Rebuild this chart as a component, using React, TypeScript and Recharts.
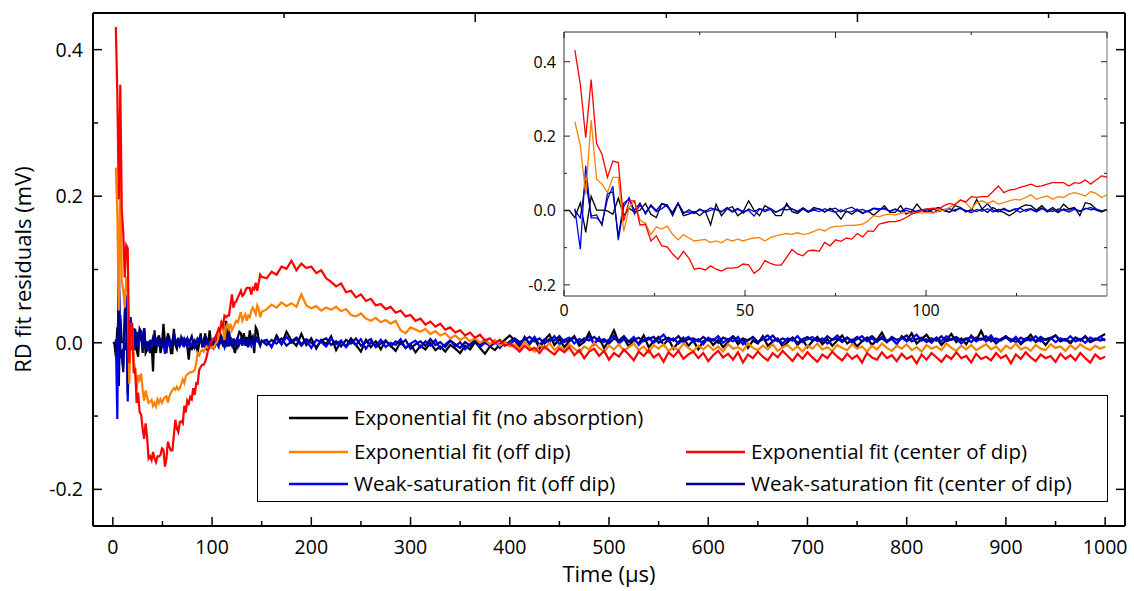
import React from 'react';
import { LineChart, Line, XAxis, YAxis, Legend } from 'recharts';

const FONT = '"Open Sans", "DejaVu Sans", sans-serif';

// ---------- sampling grid (time in µs) ----------
const FINE_START = 0;
const FINE_STEP = 1.5;
const COARSE_START = 155;
const COARSE_STEP = 5;

// ---------- series values, fine part 0..150 µs ----------
const BLACK_FINE = [
  0, 0, -0.019, 0.021, -0.059, 0.038, 0.001, 0.001, -0.001, -0.01,
  0.033, -0.014, 0.006, -0.005, 0.001, 0.019, -0.01, -0.019, 0.019, 0.015,
  -0.014, 0.019, -0.014, -0.01, -0.003, -0.014, -0.001, -0.039, 0.017, -0.014,
  0.004, 0.01, -0.014, -0.003, 0.026, 0.001, -0.014, 0.013, 0.004, -0.014,
  -0.014, 0.019, -0.003, -0.008, 0.004, -0.005, 0.008, 0.004, -0.005, 0.006,
  -0.005, -0.023, -0.001, -0.01, 0.001, -0.008, -0.001, -0.013, -0.001, 0.013,
  -0.005, -0.005, 0.013, -0.01, -0.003, 0.017, -0.001, -0.005, 0.004, 0.008,
  -0.001, -0.005, 0.013, 0.008, -0.003, -0.001, 0.03, 0.004, -0.005, 0.008,
  -0.001, -0.005, -0.014, -0.005, 0.008, 0.015, 0.013, 0.001, 0.013, -0.001,
  0.008, -0.003, 0.017, 0.004, 0.008, -0.014, 0.021, 0.017, 0.004, -0.001,
  0.002,
];
const ORANGE_FINE = [
  null, null, 0.239, 0.176, 0.044, 0.243, 0.084, 0.071, 0.048, 0.089,
  0.089, -0.056, 0.008, 0.026, -0.026, -0.035, -0.065, -0.044, -0.05, -0.042,
  -0.064, -0.079, -0.065, -0.074, -0.082, -0.08, -0.078, -0.086, -0.082, -0.087,
  -0.077, -0.082, -0.077, -0.082, -0.077, -0.074, -0.073, -0.082, -0.073, -0.068,
  -0.065, -0.062, -0.064, -0.06, -0.064, -0.062, -0.056, -0.05, -0.055, -0.046,
  -0.043, -0.042, -0.04, -0.04, -0.039, -0.037, -0.028, -0.014, -0.017, -0.012,
  -0.01, -0.012, -0.008, -0.005, -0.008, -0.005, -0.007, -0.005, -0.007, -0.001,
  0.001, 0.008, 0.017, 0.029, 0.021, 0.004, 0.021, 0.026, 0.019, 0.026,
  0.017, 0.021, 0.026, 0.03, 0.028, 0.035, 0.042, 0.03, 0.035, 0.039,
  0.03, 0.037, 0.035, 0.044, 0.048, 0.044, 0.039, 0.051, 0.046, 0.035,
  0.042,
];
const RED_FINE = [
  null, null, 0.431, 0.34, 0.196, 0.352, 0.18, 0.151, 0.089, 0.133,
  0.129, -0.028, 0.026, 0.026, -0.039, -0.037, -0.082, -0.068, -0.095, -0.098,
  -0.117, -0.131, -0.11, -0.128, -0.158, -0.155, -0.16, -0.149, -0.158, -0.163,
  -0.155, -0.155, -0.153, -0.144, -0.146, -0.169, -0.158, -0.135, -0.142, -0.147,
  -0.147, -0.126, -0.105, -0.117, -0.122, -0.108, -0.107, -0.11, -0.086, -0.095,
  -0.079, -0.083, -0.074, -0.077, -0.062, -0.071, -0.055, -0.056, -0.037, -0.033,
  -0.03, -0.03, -0.026, -0.019, -0.01, -0.005, 0.001, 0.004, 0.006, 0.004,
  0.013, 0.019, 0.015, 0.028, 0.023, 0.037, 0.035, 0.037, 0.037, 0.051,
  0.066, 0.048, 0.055, 0.057, 0.062, 0.066, 0.071, 0.064, 0.066, 0.071,
  0.075, 0.075, 0.075, 0.066, 0.075, 0.073, 0.082, 0.071, 0.082, 0.093,
  0.09,
];
const BLUE_FINE = [
  null, null, 0.005, -0.104, 0.12, -0.02, -0.02, -0.035, 0.03, 0.065,
  -0.08, 0.01, 0.035, -0.01, 0.015, -0.005, 0.012, -0.003, 0.005, 0.015,
  -0.008, 0.02, -0.005, -0.004, -0.008, 0.002, -0.005, 0.0, 0.004, -0.003,
  0.006, -0.005, 0.003, -0.002, 0.0, -0.015, 0.004, -0.003, 0.003, -0.004,
  0.003, 0.002, 0.004, -0.002, 0.006, -0.004, 0.001, -0.003, 0.005, -0.001,
  -0.005, 0.002, -0.004, -0.003, 0.004, -0.006, -0.001, 0.006, 0.005, 0.004,
  -0.002, 0.003, -0.004, 0.001, -0.005, -0.001, 0.002, 0.004, -0.006, -0.001,
  0.003, -0.004, 0.002, 0.005, 0.0, -0.006, 0.003, -0.002, 0.005, -0.004,
  0.003, 0.002, -0.003, 0.004, 0.006, -0.002, 0.003, -0.004, 0.005, 0.0,
  -0.003, 0.004, 0.001, -0.004, 0.003, -0.002, 0.006, 0.002, 0.004, -0.003,
  0.002,
];
const NAVY_FINE = [
  null, null, 0.0, -0.02, 0.08, -0.015, -0.012, -0.04, 0.045, 0.05,
  -0.07, 0.02, 0.03, 0.0, 0.02, -0.01, 0.015, 0.0, 0.018, 0.01,
  -0.005, 0.02, -0.008, 0.002, -0.006, 0.004, -0.003, 0.007, 0.002, -0.004,
  0.008, -0.002, 0.006, -0.007, 0.004, -0.003, 0.005, 0.001, 0.006, -0.005,
  0.002, 0.014, 0.004, -0.004, 0.007, -0.002, 0.003, 0.005, -0.003, 0.002,
  0.006, -0.004, 0.004, 0.009, -0.001, 0.003, -0.004, 0.005, 0.001, 0.007,
  -0.002, 0.004, -0.003, 0.006, 0.002, -0.005, 0.001, -0.002, 0.004, -0.003,
  0.002, 0.005, -0.002, 0.008, -0.004, 0.003, -0.003, 0.004, 0.018, 0.001,
  -0.004, 0.006, -0.002, 0.003, -0.005, 0.002, 0.005, -0.002, 0.007, -0.004,
  0.003, -0.006, 0.004, 0.001, 0.006, -0.003, 0.004, 0.008, 0.001, -0.004,
  0.003,
];

// ---------- series values, coarse part 155..1000 µs ----------
const BLACK_COARSE = [
  0.004, -0.006, 0.010, -0.002, 0.015, 0.003, -0.004, 0.012, -0.003, 0.006,
  -0.008, 0.004, -0.002, 0.009, -0.010, 0.002, -0.005, 0.006, -0.003, -0.012,
  0.004, -0.006, 0.002, -0.009, 0.003, -0.004, -0.011, 0.001, -0.007, -0.002,
  -0.013, -0.004, -0.009, 0.000, -0.010, -0.005, -0.012, -0.003, -0.008, -0.014,
  -0.004, -0.009, 0.001, -0.007, -0.015, -0.005, -0.010, -0.002, 0.004, 0.010,
  0.003, -0.005, 0.008, -0.002, 0.006, -0.008, 0.004, 0.011, -0.003, 0.005,
  -0.006, 0.002, 0.009, -0.004, 0.001, 0.014, -0.002, 0.007, -0.007, 0.003,
  0.017, 0.000, 0.006, -0.005, 0.004, -0.001, 0.010, -0.006, 0.002, 0.008,
  -0.003, 0.005, -0.008, 0.001, 0.007, -0.004, 0.003, -0.009, 0.002, 0.006,
  -0.003, 0.004, -0.006, 0.001, 0.008, -0.002, 0.005, -0.007, 0.003, -0.001,
  0.009, -0.004, 0.002, 0.006, -0.005, 0.001, 0.007, -0.003, 0.004, -0.006,
  0.002, 0.008, -0.002, 0.005, -0.004, 0.003, 0.010, -0.001, 0.004, -0.005,
  0.002, 0.007, -0.003, 0.004, 0.014, 0.001, 0.006, -0.002, 0.009, 0.003,
  0.013, -0.001, 0.005, 0.011, 0.002, 0.007, -0.003, 0.004, 0.012, 0.001,
  0.006, -0.002, 0.010, 0.003, 0.016, 0.002, 0.007, -0.001, 0.005, 0.009,
  0.002, 0.006, -0.002, 0.004, 0.011, 0.001, 0.005, -0.003, 0.006, 0.010,
  0.002, 0.005, -0.001, 0.007, 0.003, 0.009, 0.001, 0.004, 0.008, 0.012,
];
const ORANGE_COARSE = [
  0.046, 0.052, 0.048, 0.055, 0.050, 0.054, 0.049, 0.066, 0.051, 0.047,
  0.050, 0.044, 0.048, 0.045, 0.049, 0.043, 0.046, 0.038, 0.036, 0.040,
  0.033, 0.030, 0.034, 0.028, 0.031, 0.026, 0.030, 0.017, 0.013, 0.021,
  0.018, 0.015, 0.019, 0.012, 0.016, 0.010, 0.013, 0.006, 0.010, 0.004,
  0.008, 0.002, 0.006, 0.000, 0.004, -0.002, 0.003, -0.004, 0.001, -0.005,
  -0.002, -0.009, 0.001, -0.006, -0.012, -0.003, -0.008, 0.000, -0.010, -0.004,
  -0.011, -0.002, -0.008, -0.013, -0.005, -0.009, 0.000, -0.007, -0.012, -0.004,
  -0.009, -0.002, -0.011, -0.006, -0.001, -0.010, -0.005, -0.013, -0.003, -0.008,
  -0.002, -0.011, -0.006, -0.010, -0.001, -0.007, -0.012, -0.004, -0.009, -0.003,
  -0.010, -0.005, -0.012, -0.002, -0.008, -0.006, -0.011, -0.001, -0.007, -0.010,
  -0.004, -0.009, -0.002, -0.011, -0.006, -0.003, -0.010, -0.005, -0.012, -0.004,
  -0.008, -0.001, -0.009, -0.006, -0.011, -0.003, -0.007, -0.010, -0.002, -0.008,
  -0.005, -0.012, -0.004, -0.009, -0.001, -0.007, -0.011, -0.004, -0.008, -0.002,
  -0.010, -0.006, -0.012, -0.003, -0.008, -0.005, -0.010, -0.001, -0.007, -0.011,
  -0.004, -0.009, -0.003, -0.010, -0.006, -0.002, -0.009, -0.005, -0.012, -0.004,
  -0.008, -0.001, -0.009, -0.006, -0.011, -0.003, -0.008, -0.010, -0.002, -0.007,
  -0.005, -0.011, -0.003, -0.009, -0.002, -0.007, -0.010, -0.004, -0.008, -0.005,
];
const RED_COARSE = [
  0.088, 0.097, 0.093, 0.104, 0.101, 0.112, 0.099, 0.108, 0.102, 0.104,
  0.095, 0.099, 0.088, 0.083, 0.077, 0.081, 0.069, 0.071, 0.062, 0.066,
  0.057, 0.060, 0.051, 0.053, 0.046, 0.049, 0.041, 0.044, 0.036, 0.038,
  0.030, 0.033, 0.025, 0.029, 0.022, 0.026, 0.018, 0.021, 0.014, 0.017,
  0.010, 0.014, 0.007, 0.011, 0.003, 0.006, -0.001, 0.004, -0.004, -0.001,
  -0.006, -0.012, -0.004, -0.010, -0.007, -0.014, -0.005, -0.011, -0.016, -0.008,
  -0.013, -0.006, -0.017, -0.010, -0.021, -0.012, -0.008, -0.018, -0.011, -0.023,
  -0.014, -0.019, -0.009, -0.016, -0.024, -0.012, -0.018, -0.010, -0.020, -0.015,
  -0.026, -0.013, -0.019, -0.011, -0.022, -0.016, -0.012, -0.021, -0.014, -0.025,
  -0.017, -0.011, -0.020, -0.015, -0.023, -0.013, -0.027, -0.016, -0.021, -0.012,
  -0.019, -0.024, -0.014, -0.020, -0.011, -0.018, -0.025, -0.015, -0.022, -0.013,
  -0.020, -0.026, -0.016, -0.021, -0.012, -0.019, -0.024, -0.015, -0.022, -0.017,
  -0.027, -0.014, -0.020, -0.023, -0.013, -0.021, -0.017, -0.025, -0.015, -0.022,
  -0.018, -0.028, -0.016, -0.023, -0.014, -0.020, -0.026, -0.017, -0.022, -0.013,
  -0.021, -0.018, -0.027, -0.015, -0.022, -0.019, -0.024, -0.014, -0.021, -0.017,
  -0.028, -0.016, -0.022, -0.013, -0.020, -0.025, -0.016, -0.021, -0.018, -0.026,
  -0.015, -0.022, -0.017, -0.024, -0.014, -0.021, -0.027, -0.016, -0.022, -0.019,
];
const BLUE_COARSE = [
  0.002, -0.005, 0.006, -0.002, 0.008, 0.000, 0.005, -0.004, 0.003, -0.007,
  0.004, 0.001, -0.005, 0.006, -0.002, 0.003, -0.006, 0.002, -0.003, 0.005,
  -0.008, 0.001, -0.004, 0.004, -0.006, 0.000, -0.003, 0.005, -0.007, -0.001,
  0.003, -0.006, 0.002, -0.004, 0.004, -0.008, -0.002, 0.003, -0.005, 0.001,
  -0.009, -0.002, 0.004, -0.006, 0.000, -0.004, 0.003, -0.007, 0.001, -0.003,
  0.004, -0.002, 0.006, 0.000, 0.008, -0.003, 0.005, 0.001, 0.009, -0.002,
  0.004, 0.007, -0.001, 0.005, 0.002, 0.009, -0.002, 0.006, 0.001, 0.004,
  0.010, -0.001, 0.005, 0.002, 0.008, -0.003, 0.004, 0.007, 0.000, 0.005,
  0.011, 0.002, 0.006, -0.001, 0.004, 0.008, 0.001, 0.005, -0.002, 0.007,
  0.003, 0.009, 0.000, 0.005, 0.002, 0.008, -0.002, 0.004, 0.007, 0.001,
  0.006, 0.010, 0.002, 0.005, -0.001, 0.006, 0.003, 0.009, 0.001, 0.005,
  0.008, 0.002, 0.006, -0.001, 0.004, 0.010, 0.003, 0.007, 0.000, 0.005,
  0.009, 0.002, 0.006, 0.001, 0.008, 0.003, 0.005, -0.001, 0.007, 0.002,
  0.006, 0.011, 0.003, 0.005, 0.000, 0.007, 0.002, 0.009, 0.004, 0.006,
  -0.001, 0.005, 0.008, 0.002, 0.006, 0.003, 0.010, 0.001, 0.005, 0.007,
  0.002, 0.008, 0.000, 0.006, 0.003, 0.009, 0.002, 0.005, 0.007, 0.001,
  0.006, 0.003, 0.009, 0.002, 0.005, 0.000, 0.007, 0.004, 0.008, 0.003,
];
const NAVY_COARSE = [
  -0.003, 0.004, -0.001, 0.006, -0.004, 0.002, 0.007, -0.002, 0.005, 0.000,
  -0.006, 0.003, 0.006, -0.003, 0.002, -0.005, 0.004, -0.001, 0.006, -0.004,
  0.001, 0.005, -0.006, -0.001, 0.003, -0.005, 0.002, -0.002, 0.004, -0.008,
  -0.002, 0.002, -0.004, 0.005, -0.003, 0.001, -0.006, 0.003, -0.002, -0.007,
  0.001, -0.004, 0.002, -0.003, 0.004, -0.005, 0.000, 0.003, -0.004, 0.002,
  0.006, 0.001, 0.004, 0.008, 0.002, 0.006, -0.001, 0.005, 0.003, 0.009,
  0.001, 0.004, 0.007, 0.000, 0.006, 0.003, 0.008, 0.002, 0.005, -0.001,
  0.006, 0.003, 0.009, 0.001, 0.004, 0.007, 0.002, 0.005, 0.008, 0.000,
  0.004, 0.007, 0.003, 0.009, 0.001, 0.005, 0.006, 0.002, 0.008, 0.003,
  0.005, 0.000, 0.007, 0.004, 0.009, 0.002, 0.006, 0.003, 0.008, 0.001,
  0.005, 0.004, 0.010, 0.002, 0.006, 0.003, 0.007, 0.000, 0.005, 0.008,
  0.003, 0.006, 0.002, 0.009, 0.004, 0.006, 0.001, 0.007, 0.003, 0.008,
  0.002, 0.005, 0.009, 0.003, 0.006, 0.001, 0.008, 0.004, 0.006, 0.010,
  0.002, 0.005, 0.007, 0.001, 0.006, 0.003, 0.009, 0.002, 0.005, 0.008,
  0.003, 0.006, 0.001, 0.007, 0.004, 0.009, 0.002, 0.006, 0.003, 0.008,
  0.005, 0.001, 0.007, 0.003, 0.006, 0.002, 0.008, 0.004, 0.006, 0.010,
  0.003, 0.005, 0.001, 0.007, 0.004, 0.008, 0.002, 0.006, 0.003, 0.005,
];

// ---------- axes ----------
const MAIN_X_MAJOR = [0, 100, 200, 300, 400, 500, 600, 700, 800, 900, 1000];
const MAIN_X_MINOR = [50, 150, 250, 350, 450, 550, 650, 750, 850, 950];
const MAIN_Y_MAJOR = [-0.2, 0, 0.2, 0.4];
const MAIN_Y_MINOR = [-0.1, 0.1, 0.3];
const MAIN_X_DOMAIN = [-20, 1020];
const MAIN_Y_DOMAIN = [-0.25, 0.45];

const INSET_X_MAJOR = [0, 50, 100];
const INSET_X_MINOR = [25, 75, 125];
const INSET_Y_MAJOR = [-0.2, 0, 0.2, 0.4];
const INSET_Y_MINOR = [-0.1, 0.1, 0.3];
const INSET_X_DOMAIN = [0, 150];
const INSET_Y_DOMAIN = [-0.23, 0.48];

// ---------- series meta ----------
const SERIES = [
  { key: 'black', name: 'Exponential fit (no absorption)', color: '#000000', col: 0, row: 0 },
  { key: 'blue', name: 'Weak-saturation fit (off dip)', color: '#0000ff', col: 0, row: 2 },
  { key: 'navy', name: 'Weak-saturation fit (center of dip)', color: '#000090', col: 1, row: 2 },
  { key: 'orange', name: 'Exponential fit (off dip)', color: '#ff8000', col: 0, row: 1 },
  { key: 'red', name: 'Exponential fit (center of dip)', color: '#ff0000', col: 1, row: 1 },
];

type Row = { t: number; [k: string]: number | null };

function buildRows(start: number, step: number, cols: Record<string, (number | null)[]>): Row[] {
  const n = cols.black.length;
  const rows: Row[] = [];
  for (let i = 0; i < n; i++) {
    const r: Row = { t: +(start + i * step).toFixed(3) };
    for (const k of Object.keys(cols)) r[k] = cols[k][i] ?? null;
    rows.push(r);
  }
  return rows;
}

const FINE_ROWS = buildRows(FINE_START, FINE_STEP, {
  black: BLACK_FINE, orange: ORANGE_FINE, red: RED_FINE, blue: BLUE_FINE, navy: NAVY_FINE,
});
const COARSE_ROWS = buildRows(COARSE_START, COARSE_STEP, {
  black: BLACK_COARSE, orange: ORANGE_COARSE, red: RED_COARSE, blue: BLUE_COARSE, navy: NAVY_COARSE,
});
const MAIN_DATA = [...FINE_ROWS, ...COARSE_ROWS];
const INSET_DATA = FINE_ROWS;

type Side = 'bottom' | 'top' | 'left' | 'right';
type TickOpts = {
  majors: number[];
  major: number;
  minor: number;
  labels: boolean;
  fontSize: number;
  gap: number;
  stroke: string;
  sw: number;
  fmt: (v: number) => string;
};

function makeTick(side: Side, o: TickOpts) {
  return (props: any) => {
    const { x, y, payload } = props;
    const v = payload.value as number;
    const isMajor = o.majors.some((m) => Math.abs(m - v) < 1e-9);
    const len = isMajor ? o.major : o.minor;
    let x2 = x;
    let y2 = y;
    if (side === 'bottom') y2 = y - len;
    else if (side === 'top') y2 = y + len;
    else if (side === 'left') x2 = x + len;
    else x2 = x - len;
    let label = null;
    if (o.labels && isMajor) {
      if (side === 'bottom') {
        label = (
          <text x={x} y={y + o.gap} textAnchor="middle" fontSize={o.fontSize} fontFamily={FONT} fill="#000">
            {o.fmt(v)}
          </text>
        );
      } else if (side === 'left') {
        label = (
          <text x={x - o.gap} y={y} dy="0.36em" textAnchor="end" fontSize={o.fontSize} fontFamily={FONT} fill="#000">
            {o.fmt(v)}
          </text>
        );
      }
    }
    return (
      <g>
        <line x1={x} y1={y} x2={x2} y2={y2} stroke={o.stroke} strokeWidth={o.sw} />
        {label}
      </g>
    );
  };
}

const fmtY = (v: number) => (Math.abs(v) < 1e-9 ? '0.0' : v.toFixed(1));
const fmtX = (v: number) => String(v);

const MAIN_TICK = { major: 9, minor: 5, fontSize: 19.5, stroke: '#000', sw: 1.5 };
const INSET_TICK = { major: 6, minor: 3, fontSize: 16, stroke: '#222', sw: 1 };

function LegendBox() {
  const colX = [31, 428];
  const rowY = [22, 56, 88];
  return (
    <div
      style={{
        width: 851,
        height: 107,
        border: '1px solid #000',
        background: '#fff',
        boxSizing: 'border-box',
      }}
    >
      <svg width={849} height={105} style={{ display: 'block' }}>
        {SERIES.map((s) => (
          <g key={s.key}>
            <line
              x1={colX[s.col]}
              x2={colX[s.col] + 59}
              y1={rowY[s.row]}
              y2={rowY[s.row]}
              stroke={s.color}
              strokeWidth={2.5}
            />
            <text
              x={colX[s.col] + 65}
              y={rowY[s.row]}
              dy="0.35em"
              fontSize={20.5}
              fontFamily={FONT}
              fill="#000"
            >
              {s.name}
            </text>
          </g>
        ))}
      </svg>
    </div>
  );
}

export default function App() {
  const mainMajorsX = MAIN_X_MAJOR;
  const allMainX = [...MAIN_X_MAJOR, ...MAIN_X_MINOR].sort((a, b) => a - b);
  const allMainY = [...MAIN_Y_MAJOR, ...MAIN_Y_MINOR].sort((a, b) => a - b);
  const allInsetX = [...INSET_X_MAJOR, ...INSET_X_MINOR].sort((a, b) => a - b);
  const allInsetY = [...INSET_Y_MAJOR, ...INSET_Y_MINOR].sort((a, b) => a - b);

  return (
    <div style={{ position: 'absolute', left: 0, top: 0, width: 1134, height: 591, background: '#fff', fontFamily: FONT }}>
      <LineChart
        width={1134}
        height={591}
        data={MAIN_DATA}
        margin={{ top: 12, right: 8, bottom: 0, left: 0 }}
      >
        <XAxis
          xAxisId="main"
          dataKey="t"
          type="number"
          domain={MAIN_X_DOMAIN}
          allowDataOverflow
          ticks={allMainX}
          interval={0}
          height={65}
          tickSize={0}
          tickMargin={0}
          tickLine={false}
          axisLine={{ stroke: '#000', strokeWidth: 2 }}
          tick={makeTick('bottom', { ...MAIN_TICK, majors: mainMajorsX, labels: true, gap: 28, fmt: fmtX })}
          label={{
            content: (p: any) => {
              const vb = p.viewBox;
              return (
                <text x={vb.x + vb.width / 2} y={582} textAnchor="middle" fontSize={22} fontFamily={FONT} fill="#000">
                  Time (µs)
                </text>
              );
            },
          }}
        />
        <XAxis
          xAxisId="top"
          orientation="top"
          type="number"
          domain={MAIN_X_DOMAIN}
          allowDataOverflow
          ticks={allMainX}
          interval={0}
          height={1}
          tickSize={0}
          tickMargin={0}
          tickLine={false}
          axisLine={{ stroke: '#000', strokeWidth: 2 }}
          tick={makeTick('top', { ...MAIN_TICK, majors: mainMajorsX, labels: false, gap: 0, fmt: fmtX })}
        />
        <YAxis
          yAxisId="main"
          type="number"
          domain={MAIN_Y_DOMAIN}
          allowDataOverflow
          ticks={allMainY}
          interval={0}
          width={93}
          tickSize={0}
          tickMargin={0}
          tickLine={false}
          axisLine={{ stroke: '#000', strokeWidth: 2 }}
          tick={makeTick('left', { ...MAIN_TICK, majors: MAIN_Y_MAJOR, labels: true, gap: 10, fmt: fmtY })}
          label={{
            content: (p: any) => {
              const vb = p.viewBox;
              const cx = 23;
              const cy = vb.y + vb.height / 2;
              return (
                <text
                  x={cx}
                  y={cy}
                  transform={`rotate(-90 ${cx} ${cy})`}
                  textAnchor="middle"
                  dy="0.35em"
                  fontSize={22}
                  fontFamily={FONT}
                  fill="#000"
                >
                  RD fit residuals (mV)
                </text>
              );
            },
          }}
        />
        <YAxis
          yAxisId="right"
          orientation="right"
          type="number"
          domain={MAIN_Y_DOMAIN}
          allowDataOverflow
          ticks={allMainY}
          interval={0}
          width={1}
          tickSize={0}
          tickMargin={0}
          tickLine={false}
          axisLine={{ stroke: '#000', strokeWidth: 2 }}
          tick={makeTick('right', { ...MAIN_TICK, majors: MAIN_Y_MAJOR, labels: false, gap: 0, fmt: fmtY })}
        />
        {SERIES.map((s) => (
          <Line
            key={s.key}
            xAxisId="main"
            yAxisId="main"
            type="linear"
            dataKey={s.key}
            name={s.name}
            stroke={s.color}
            strokeWidth={2.2}
            dot={false}
            activeDot={false}
            isAnimationActive={false}
          />
        ))}
        <Legend
          layout="vertical"
          align="center"
          verticalAlign="middle"
          wrapperStyle={{ position: 'absolute', left: 257, top: 395, width: 851, height: 107 }}
          content={() => <LegendBox />}
        />
      </LineChart>

      <div style={{ position: 'absolute', left: 520, top: 20 }}>
        <LineChart
          width={590}
          height={305}
          data={INSET_DATA}
          margin={{ top: 11, right: 2, bottom: 0, left: 0 }}
        >
          <XAxis
            xAxisId="main"
            dataKey="t"
            type="number"
            domain={INSET_X_DOMAIN}
            allowDataOverflow
            ticks={allInsetX}
            interval={0}
            height={29}
            tickSize={0}
            tickMargin={0}
            tickLine={false}
            axisLine={{ stroke: '#333', strokeWidth: 1 }}
            tick={makeTick('bottom', { ...INSET_TICK, majors: INSET_X_MAJOR, labels: true, gap: 20, fmt: fmtX })}
          />
          <XAxis
            xAxisId="top"
            orientation="top"
            type="number"
            domain={INSET_X_DOMAIN}
            allowDataOverflow
            ticks={allInsetX}
            interval={0}
            height={1}
            tickSize={0}
            tickMargin={0}
            tickLine={false}
            axisLine={{ stroke: '#333', strokeWidth: 1 }}
            tick={makeTick('top', { ...INSET_TICK, majors: INSET_X_MAJOR, labels: false, gap: 0, fmt: fmtX })}
          />
          <YAxis
            yAxisId="main"
            type="number"
            domain={INSET_Y_DOMAIN}
            allowDataOverflow
            ticks={allInsetY}
            interval={0}
            width={44}
            tickSize={0}
            tickMargin={0}
            tickLine={false}
            axisLine={{ stroke: '#333', strokeWidth: 1 }}
            tick={makeTick('left', { ...INSET_TICK, majors: INSET_Y_MAJOR, labels: true, gap: 8, fmt: fmtY })}
          />
          <YAxis
            yAxisId="right"
            orientation="right"
            type="number"
            domain={INSET_Y_DOMAIN}
            allowDataOverflow
            ticks={allInsetY}
            interval={0}
            width={1}
            tickSize={0}
            tickMargin={0}
            tickLine={false}
            axisLine={{ stroke: '#777', strokeWidth: 1 }}
            tick={makeTick('right', { ...INSET_TICK, majors: INSET_Y_MAJOR, labels: false, gap: 0, fmt: fmtY })}
          />
          {SERIES.map((s) => (
            <Line
              key={s.key}
              xAxisId="main"
              yAxisId="main"
              type="linear"
              dataKey={s.key}
              name={s.name}
              stroke={s.color}
              strokeWidth={1.3}
              dot={false}
              activeDot={false}
              isAnimationActive={false}
            />
          ))}
        </LineChart>
      </div>
    </div>
  );
}
